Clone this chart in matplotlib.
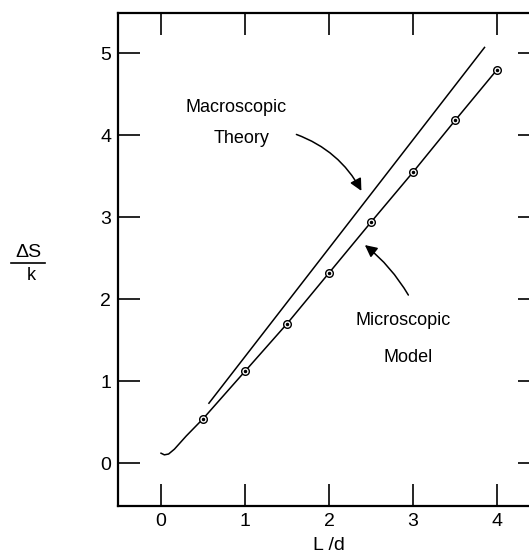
import numpy as np
import matplotlib
matplotlib.use("Agg")
import matplotlib.pyplot as plt
from matplotlib.lines import Line2D

plt.rcParams['font.family'] = ['Liberation Sans', 'DejaVu Sans']

# microscopic model points
micro_x = [0.5, 1.0, 1.5, 2.0, 2.5, 3.0, 3.5, 4.0]
micro_y = [0.54, 1.12, 1.70, 2.32, 2.94, 3.55, 4.18, 4.80]

# low end of the microscopic curve (hook near origin)
hook_x = [0.0, 0.04, 0.09, 0.16, 0.3, 0.5]
hook_y = [0.12, 0.10, 0.11, 0.17, 0.33, 0.54]

# macroscopic theory line
macro_x = [0.57, 3.85]
macro_y = [0.73, 5.07]

xticks = [0, 1, 2, 3, 4]
yticks = [0, 1, 2, 3, 4, 5]

fig = plt.figure(figsize=(5.29, 5.57), dpi=100)
ax = fig.add_axes([118/529, 1 - 506/557, (540 - 118)/529, (506 - 13)/557])

lw = 1.1
ax.plot(hook_x, hook_y, color='black', lw=lw)
ax.plot(micro_x, micro_y, color='black', lw=lw)
ax.plot(micro_x, micro_y, 'o', ms=5.5, mfc='white', mec='black', mew=1.0)
ax.plot(micro_x, micro_y, '.', ms=3, color='black')
ax.plot(macro_x, macro_y, color='black', lw=lw)

ax.set_xlim(-0.512, 4.51)
ax.set_ylim(-0.524, 5.49)
ax.set_xticks(xticks)
ax.set_yticks(yticks)
ax.tick_params(direction='in', length=16, width=1.2, labelsize=14,
               top=True, right=True, pad=5)
for s in ax.spines.values():
    s.set_linewidth(1.6)

fs = 13
ax.text(0.89, 4.34, 'Macroscopic', ha='center', va='center', fontsize=fs)
ax.text(0.96, 3.96, 'Theory', ha='center', va='center', fontsize=fs)
ax.text(2.88, 1.74, 'Microscopic', ha='center', va='center', fontsize=fs)
ax.text(2.94, 1.29, 'Model', ha='center', va='center', fontsize=fs)

ax.annotate('', xy=(2.40, 3.29), xytext=(1.58, 4.02),
            arrowprops=dict(arrowstyle='-|>', color='black', lw=1.1,
                            mutation_scale=18, connectionstyle='arc3,rad=-0.2'))
ax.annotate('', xy=(2.40, 2.68), xytext=(2.96, 2.02),
            arrowprops=dict(arrowstyle='-|>', color='black', lw=1.1,
                            mutation_scale=18, connectionstyle='arc3,rad=0.1'))

# x label
fig.text(329/529, 1 - 545/557, 'L /d', ha='center', va='center', fontsize=14)
# y label as a fraction
fig.text(28/529, 1 - 252/557, '\u0394S', ha='center', va='center', fontsize=14)
fig.add_artist(Line2D([11/529, 45/529], [1 - 263/557, 1 - 263/557],
                      color='black', lw=1.2))
fig.text(31/529, 1 - 276/557, 'k', ha='center', va='center', fontsize=13)

fig.savefig('out.png', dpi=100)
